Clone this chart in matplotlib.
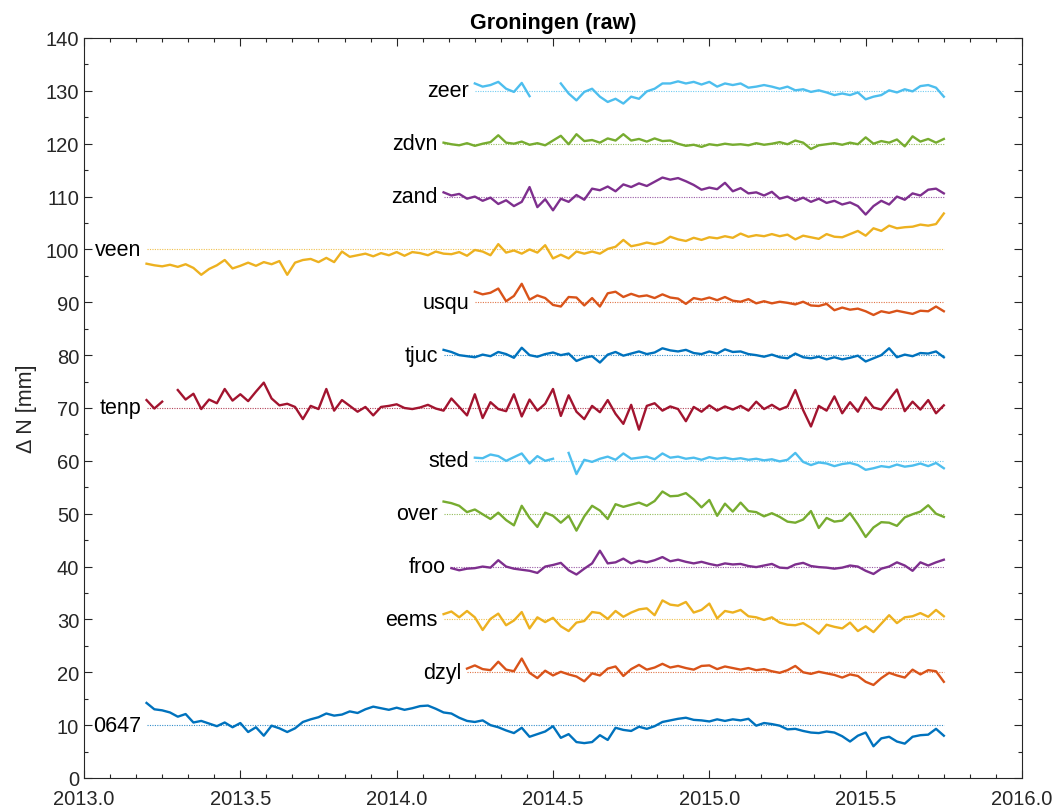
import numpy as np
import matplotlib
matplotlib.use("Agg")
import matplotlib.pyplot as plt
from matplotlib.ticker import MultipleLocator, FormatStrFormatter

plt.rcParams['font.family'] = ['Liberation Sans', 'DejaVu Sans']

step = 0.025  # sampling of the values (years)
t_end = 2015.75

stations = ['0647', 'dzyl', 'eems', 'froo', 'over', 'sted', 'tenp',
            'tjuc', 'usqu', 'veen', 'zand', 'zdvn', 'zeer']
offsets = [10, 20, 30, 40, 50, 60, 70, 80, 90, 100, 110, 120, 130]
starts = [2013.2, 2014.225, 2014.15, 2014.175, 2014.15, 2014.25, 2013.2,
          2014.15, 2014.25, 2013.2, 2014.15, 2014.15, 2014.25]

nan = np.nan
n_0647 = [14.2, 13.0, 12.8, 12.4, 11.6, 12.1, 10.5, 10.8, 10.3, 9.8, 10.5, 9.6, 10.4, 8.7, 9.6, 8.0,
          9.9, 9.4, 8.7, 9.4, 10.6, 11.1, 11.5, 12.2, 11.8, 12.0, 12.6, 12.3, 13.0, 13.5, 13.2, 12.9,
          13.3, 12.9, 13.2, 13.6, 13.7, 13.1, 12.4, 12.2, 11.4, 10.8, 10.6, 10.9, 10.0, 9.6, 9.0, 8.5,
          9.5, 7.8, 8.3, 8.8, 9.8, 7.6, 8.3, 6.8, 6.6, 6.8, 8.1, 7.2, 9.5, 9.1, 8.9, 9.7, 9.3, 9.8,
          10.6, 10.9, 11.2, 11.4, 11.0, 10.9, 10.7, 11.1, 10.8, 11.1, 10.9, 11.2, 9.9, 10.4, 10.2, 9.9,
          9.2, 9.3, 8.9, 8.6, 8.5, 8.8, 8.6, 7.9, 6.9, 8.0, 8.6, 6.0, 7.5, 7.8, 6.9, 6.5, 7.8, 8.1,
          8.2, 9.3, 8.0]
n_dzyl = [20.7, 21.3, 20.6, 20.4, 22.0, 20.5, 20.2, 22.6, 19.9, 18.9, 20.3, 19.4, 20.1, 19.6, 19.2,
          18.3, 19.8, 19.4, 20.7, 21.1, 19.3, 20.6, 21.4, 20.5, 20.9, 21.6, 20.9, 21.2, 20.8, 20.5,
          21.2, 21.3, 20.6, 21.1, 20.8, 20.5, 20.8, 20.4, 20.6, 20.2, 19.9, 20.4, 21.2, 20.0, 19.7,
          20.1, 19.8, 19.5, 19.0, 19.6, 19.3, 18.2, 17.6, 18.9, 19.9, 19.4, 19.0, 20.5, 19.6, 20.4,
          20.2, 18.2]
n_eems = [31.0, 31.5, 30.4, 31.6, 30.4, 28.0, 30.1, 31.1, 28.9, 29.8, 31.4, 28.3, 30.4, 29.5, 30.3,
          28.7, 27.8, 29.4, 29.7, 31.4, 31.2, 30.1, 31.6, 30.5, 31.3, 31.9, 32.1, 30.8, 33.6, 32.8,
          32.6, 33.3, 31.3, 31.8, 33.0, 30.2, 31.6, 31.3, 31.8, 30.6, 30.4, 29.9, 30.4, 29.4, 29.0,
          28.9, 29.3, 28.4, 27.3, 29.0, 28.6, 28.3, 29.4, 27.8, 28.7, 27.6, 29.2, 30.8, 29.3, 30.4,
          30.6, 31.2, 30.5, 31.8, 30.6]
n_froo = [39.7, 39.3, 39.6, 39.7, 40.0, 39.8, 41.2, 40.0, 39.6, 39.4, 39.2, 38.8, 40.0, 40.3, 40.7,
          39.3, 38.5, 39.6, 40.6, 43.0, 40.6, 40.8, 41.5, 40.6, 41.1, 40.8, 41.2, 41.8, 41.0, 41.3,
          40.9, 40.6, 40.9, 40.5, 40.2, 40.6, 40.4, 40.5, 40.1, 39.9, 40.2, 40.5, 39.8, 39.7, 40.4,
          40.7, 40.1, 39.9, 39.8, 39.6, 39.8, 40.2, 40.0, 39.2, 38.6, 39.6, 40.0, 40.8, 40.2, 39.2,
          40.8, 40.2, 40.8, 41.3]
n_over = [52.3, 52.0, 51.5, 50.3, 50.8, 49.9, 49.0, 50.2, 48.8, 47.8, 51.5, 49.2, 47.5, 50.2, 49.6,
          48.3, 49.6, 46.8, 49.5, 51.5, 50.6, 49.0, 51.8, 51.3, 51.7, 52.1, 51.5, 52.4, 54.2, 53.3,
          53.4, 53.9, 52.7, 51.2, 52.6, 49.6, 51.9, 50.4, 52.1, 50.5, 50.3, 49.5, 50.1, 49.4, 48.5,
          48.3, 48.9, 50.5, 47.3, 49.2, 48.5, 48.7, 50.1, 48.0, 45.6, 47.4, 48.4, 48.3, 47.7, 49.3,
          49.9, 50.4, 51.6, 50.0, 49.4]
n_sted = [60.6, 60.5, 61.2, 60.9, 60.0, 60.7, 61.4, 59.5, 60.9, 60.0, 60.4, nan, 61.5, 57.5, 60.2,
          59.8, 60.4, 60.8, 60.2, 61.4, 60.4, 60.6, 60.8, 60.3, 61.4, 60.6, 60.8, 60.4, 60.6, 60.2,
          60.7, 60.4, 60.6, 60.3, 60.5, 60.2, 60.4, 60.1, 60.3, 59.9, 60.2, 61.5, 59.8, 59.2, 59.7,
          59.5, 59.0, 59.4, 59.6, 59.2, 58.3, 58.6, 59.0, 58.8, 59.3, 58.9, 59.1, 59.5, 59.0, 59.6,
          58.6]
n_tenp = [71.5, 69.9, 71.2, nan, 73.4, 71.6, 72.7, 69.8, 71.6, 70.9, 73.6, 71.4, 72.6, 71.3, 73.1,
          74.8, 71.8, 70.5, 70.8, 70.2, 67.9, 70.4, 69.8, 73.6, 69.5, 71.5, 70.4, 69.3, 70.2, 68.6,
          70.2, 70.4, 70.7, 70.0, 69.8, 70.1, 70.6, 69.9, 69.5, 71.8, 70.2, 68.6, 72.6, 68.1, 71.1,
          69.8, 69.4, 72.6, 68.4, 71.6, 69.5, 70.8, 73.6, 68.5, 72.4, 69.3, 67.9, 70.4, 69.2, 71.5,
          68.9, 67.0, 70.6, 65.9, 70.4, 70.9, 69.5, 70.3, 69.8, 67.5, 70.2, 69.3, 70.5, 69.5, 70.3,
          69.7, 70.4, 69.5, 71.2, 69.8, 70.6, 69.7, 70.3, 73.4, 69.6, 66.5, 70.4, 69.5, 72.2, 69.0,
          71.1, 69.3, 72.0, 70.1, 69.7, 71.6, 73.5, 69.4, 71.2, 69.7, 71.5, 69.0, 70.5]
n_tjuc = [81.0, 80.6, 80.0, 79.8, 79.6, 80.1, 79.8, 80.6, 80.2, 79.5, 81.4, 80.0, 79.7, 80.2, 80.5,
          80.0, 80.3, 78.9, 79.5, 79.8, 78.6, 80.1, 80.6, 79.9, 80.3, 80.7, 80.2, 80.5, 81.3, 80.9,
          80.7, 81.0, 80.4, 80.2, 80.7, 80.3, 81.1, 80.6, 80.7, 80.2, 80.0, 79.7, 80.1, 79.6, 79.4,
          80.3, 79.6, 79.4, 79.7, 79.2, 79.6, 79.2, 79.5, 79.9, 78.8, 79.4, 80.0, 81.3, 79.6, 80.1,
          79.8, 80.4, 80.3, 80.7, 79.6]
n_usqu = [92.0, 91.5, 91.8, 92.6, 90.2, 91.2, 93.5, 90.5, 91.3, 90.8, 89.5, 89.2, 91.0, 90.9, 89.4,
          90.8, 89.2, 91.7, 92.0, 91.0, 91.6, 91.1, 91.3, 90.8, 91.5, 90.9, 90.7, 89.7, 90.8, 90.5,
          90.9, 90.4, 91.0, 90.3, 90.1, 90.6, 89.8, 90.2, 89.8, 90.1, 89.9, 89.6, 90.1, 89.4, 89.3,
          89.7, 88.5, 89.0, 88.6, 88.8, 88.3, 87.6, 88.3, 88.0, 88.4, 88.1, 87.8, 88.4, 88.3, 89.2,
          88.3]
n_veen = [97.3, 97.0, 96.8, 97.1, 96.7, 97.2, 96.5, 95.2, 96.3, 97.0, 98.0, 96.4, 96.9, 97.5, 96.9,
          97.6, 97.2, 97.8, 95.2, 97.5, 98.0, 98.2, 97.6, 98.4, 97.6, 99.6, 98.6, 98.9, 99.2, 98.7,
          99.3, 98.9, 99.5, 98.8, 99.5, 99.3, 98.9, 99.6, 99.2, 99.1, 99.5, 98.8, 99.9, 99.6, 98.9,
          101.0, 99.4, 99.8, 99.2, 100.0, 99.4, 100.8, 98.3, 99.0, 98.3, 99.6, 99.2, 99.6, 99.2,
          100.1, 100.5, 101.8, 100.6, 100.9, 101.3, 101.0, 101.4, 102.4, 101.9, 101.6, 102.2, 101.8,
          102.3, 102.1, 102.5, 102.2, 103.0, 102.4, 102.7, 102.5, 102.9, 102.5, 102.8, 101.9, 102.6,
          102.3, 102.0, 102.9, 102.4, 102.3, 102.9, 103.5, 102.6, 104.0, 103.5, 104.5, 104.0, 104.2,
          104.3, 104.7, 104.5, 104.8, 106.8]
n_zand = [110.8, 110.2, 110.5, 109.6, 110.0, 109.2, 109.8, 108.6, 109.3, 108.2, 109.0, 111.8, 108.0,
          109.5, 107.4, 109.6, 109.0, 110.3, 109.4, 111.5, 111.2, 111.9, 111.0, 112.3, 111.8, 112.5,
          112.0, 112.8, 113.6, 113.2, 113.5, 112.9, 112.2, 111.3, 111.7, 111.4, 112.6, 111.0, 111.6,
          110.6, 110.8, 110.2, 110.9, 109.6, 110.0, 109.2, 109.8, 109.0, 109.6, 108.8, 109.2, 108.5,
          108.9, 108.2, 106.6, 108.2, 109.2, 108.5, 110.0, 109.4, 110.6, 110.2, 111.3, 111.5, 110.6]
n_zdvn = [120.2, 119.9, 119.7, 120.1, 119.6, 120.0, 120.3, 121.6, 120.2, 120.0, 120.4, 119.8, 120.1,
          119.7, 120.6, 121.5, 119.9, 121.8, 120.5, 120.7, 120.2, 121.0, 120.6, 121.8, 120.6, 120.9,
          120.4, 121.0, 120.5, 120.6, 120.0, 119.6, 119.8, 119.4, 119.9, 119.7, 120.0, 119.8, 119.9,
          119.7, 120.1, 119.8, 120.0, 120.3, 119.9, 120.6, 120.2, 119.0, 119.7, 119.9, 120.1, 119.8,
          120.2, 119.9, 121.2, 120.0, 120.5, 120.2, 120.8, 119.5, 121.4, 120.4, 120.9, 120.2, 120.9]
n_zeer = [131.4, 130.8, 131.1, 131.7, 130.4, 129.8, 131.5, 129.0, nan, nan, nan, 131.4, 129.5, 128.2,
          129.8, 130.4, 128.9, 127.9, 128.5, 127.6, 128.9, 128.5, 129.9, 130.4, 131.4, 131.4, 131.8,
          131.4, 131.7, 131.2, 131.7, 130.8, 131.4, 131.1, 131.4, 130.6, 130.8, 131.1, 130.8, 130.4,
          130.8, 130.1, 130.3, 129.8, 130.1, 129.7, 129.2, 129.5, 129.2, 129.7, 128.4, 128.9, 129.2,
          130.1, 129.7, 130.3, 129.9, 130.9, 131.1, 130.6, 128.9]

north = [n_0647, n_dzyl, n_eems, n_froo, n_over, n_sted, n_tenp,
         n_tjuc, n_usqu, n_veen, n_zand, n_zdvn, n_zeer]

colors = ['#0072BD', '#D95319', '#EDB120', '#7E2F8E', '#77AC30', '#4DBEEE', '#A2142F']
dark = '#262626'

fig = plt.figure(figsize=(10.6, 8.12), dpi=100)
ax = fig.add_axes([84 / 1060, 33 / 812, 938 / 1060, 740 / 812])

for k, name in enumerate(stations):
    vals = np.array(north[k], dtype=float)
    t = starts[k] + step * np.arange(len(vals))
    c = colors[k % len(colors)]
    ax.plot([starts[k], t_end], [offsets[k], offsets[k]], ls=(0, (1, 1.2)), lw=0.8, color=c, alpha=0.8)
    ax.plot(t, vals, color=c, lw=1.7)
    ax.text(starts[k] - 0.018, offsets[k], name, ha='right', va='center', fontsize=15.5, color='k')

ax.set_xlim(2013, 2016)
ax.set_ylim(0, 140)
ax.xaxis.set_major_locator(MultipleLocator(0.5))
ax.xaxis.set_minor_locator(MultipleLocator(1 / 12))
ax.xaxis.set_major_formatter(FormatStrFormatter('%.1f'))
ax.yaxis.set_major_locator(MultipleLocator(10))
ax.yaxis.set_minor_locator(MultipleLocator(5))
ax.tick_params(which='both', direction='in', top=True, right=True, colors=dark, labelsize=14.5, width=0.8)
ax.tick_params(which='major', length=6)
ax.tick_params(which='minor', length=3)
ax.tick_params(axis='x', pad=8)
for s in ax.spines.values():
    s.set_color(dark)
    s.set_linewidth(0.8)
ax.set_ylabel('Δ N [mm]', fontsize=15.5, color=dark, labelpad=6)
ax.set_title('Groningen (raw)', fontsize=15.5, fontweight='bold', color='k', pad=7)

fig.savefig('out.png', dpi=100)
